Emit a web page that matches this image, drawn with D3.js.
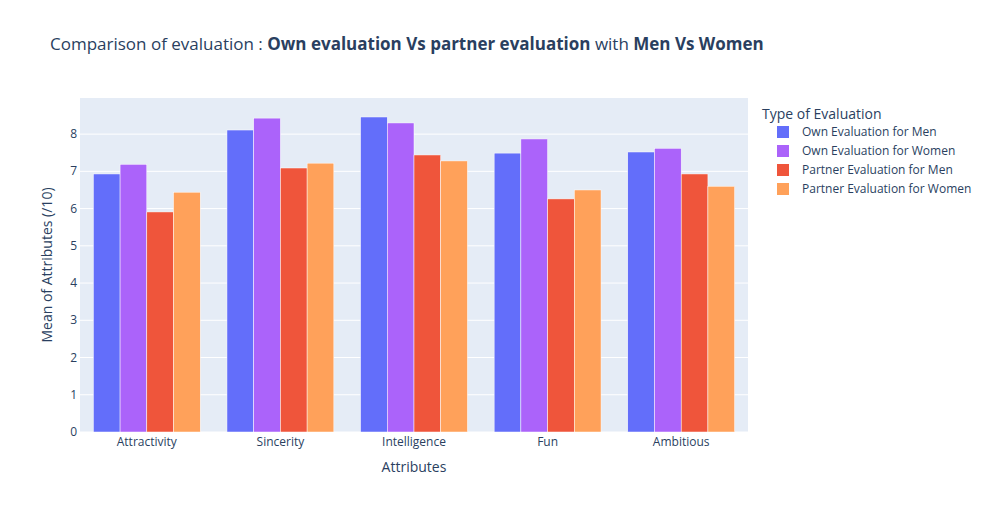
<!DOCTYPE html>
<html><head><meta charset="utf-8">
<script src="https://cdn.jsdelivr.net/npm/d3@7"></script>
<style>body{margin:0;background:#fff;font-family:"Open Sans",Arial,sans-serif;}</style>
</head><body><svg id="c" width="1000" height="512"></svg>
<script>
const categories = ["Attractivity","Sincerity","Intelligence","Fun","Ambitious"];
const seriesNames = ["Own Evaluation for Men","Own Evaluation for Women","Partner Evaluation for Men","Partner Evaluation for Women"];
const ownMen = [6.93,8.11,8.46,7.49,7.52];
const ownWomen = [7.19,8.43,8.30,7.87,7.62];
const partnerMen = [5.91,7.09,7.44,6.26,6.93];
const partnerWomen = [6.44,7.22,7.28,6.50,6.60];
const yTicks = [0,1,2,3,4,5,6,7,8];
const colors = ["#636efa","#ab63fa","#EF553B","#FFA15A"];
const series = [ownMen, ownWomen, partnerMen, partnerWomen];

const svg = d3.select("#c");
const L=80,R=748,T=98,B=432;
const x = d3.scaleBand().domain(categories).range([L,R]).paddingInner(0.2).paddingOuter(0.1);
const x1 = d3.scaleBand().domain(d3.range(4)).range([0,x.bandwidth()]);
const y = d3.scaleLinear().domain([0,8.97]).range([B,T]);
const c = "#2a3f5f";
svg.append("rect").attr("x",L).attr("y",T).attr("width",R-L).attr("height",B-T).attr("fill","#e5ecf6");
yTicks.forEach(t=>{
  svg.append("line").attr("x1",L).attr("x2",R).attr("y1",y(t)).attr("y2",y(t)).attr("stroke","#fff").attr("stroke-width",1);
  svg.append("text").attr("x",L-3).attr("y",y(t)+4).attr("text-anchor","end").attr("font-size",12).attr("fill",c).text(t);
});
series.forEach((s,i)=>{
  svg.append("g").selectAll("rect").data(s).join("rect")
    .attr("x",(d,j)=>x(categories[j])+x1(i)).attr("width",x1.bandwidth())
    .attr("y",d=>y(d)).attr("height",d=>B-y(d))
    .attr("fill",colors[i]).attr("stroke","#fff").attr("stroke-width",0.5);
});
categories.forEach(cat=>{
  svg.append("text").attr("x",x(cat)+x.bandwidth()/2).attr("y",B+14).attr("text-anchor","middle").attr("font-size",12).attr("fill",c).text(cat);
});
svg.append("text").attr("x",(L+R)/2).attr("y",472).attr("text-anchor","middle").attr("font-size",14).attr("fill",c).text("Attributes");
svg.append("text").attr("transform",`translate(52,${(T+B)/2}) rotate(-90)`).attr("text-anchor","middle").attr("font-size",14).attr("fill",c).text("Mean of Attributes (/10)");
const title = svg.append("text").attr("x",50).attr("y",50).attr("font-size",17).attr("fill",c);
title.append("tspan").text("Comparison of evaluation :  ");
title.append("tspan").attr("font-weight","bold").text("Own evaluation Vs partner evaluation");
title.append("tspan").text("  with  ");
title.append("tspan").attr("font-weight","bold").text("Men Vs Women");
svg.append("text").attr("x",762).attr("y",119).attr("font-size",14).attr("fill",c).text("Type of Evaluation");
seriesNames.forEach((n,i)=>{
  const yy = 132+i*19;
  svg.append("rect").attr("x",777).attr("y",yy-6).attr("width",12).attr("height",12).attr("fill",colors[i]);
  svg.append("text").attr("x",802).attr("y",yy+4).attr("font-size",12).attr("fill",c).text(n);
});
</script></body></html>
